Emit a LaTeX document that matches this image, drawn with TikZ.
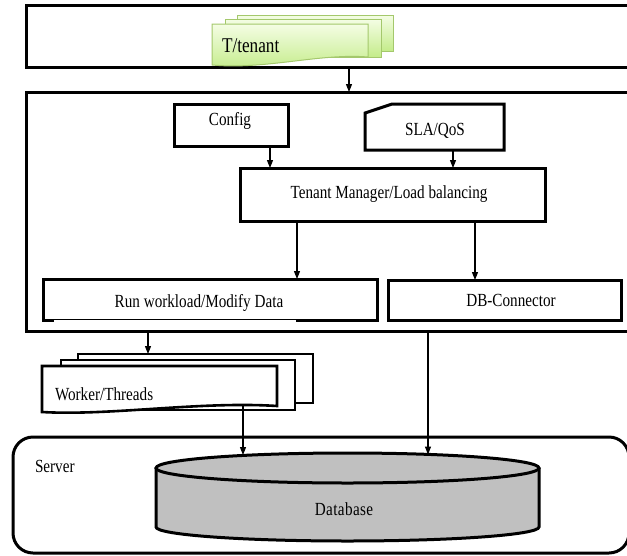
\documentclass[tikz,border=0pt]{standalone}
\usepackage{fontspec}
\setmainfont[FakeStretch=0.82]{Liberation Serif}
\usetikzlibrary{arrows.meta,shapes.geometric,calc}
\definecolor{gtop}{HTML}{F4FDE4}
\definecolor{gbot}{HTML}{C4EC8A}
\definecolor{gline}{HTML}{A4C86C}
\definecolor{dbgray}{HTML}{C0C0C0}
\begin{document}
\begin{tikzpicture}[x=1pt,y=-1pt,
  txt/.style={font=\fontsize{18.5}{21}\selectfont},
  outerbox/.style={draw,line width=3pt,rectangle,inner sep=0pt,outer sep=0pt},
  box/.style={draw,line width=3pt,rectangle,inner sep=0pt,outer sep=0pt},
  lbl/.style={inner sep=0pt,outer sep=0pt,txt},
  arr/.style={-{Triangle[length=8pt,width=6pt]},line width=1.1pt},
  gsheet/.style={draw=gline,line width=1pt,top color=gtop,bottom color=gbot},
  wsheet/.style={draw,line width=2.6pt,fill=white},
  sheetnode/.style={rectangle,inner sep=0pt,outer sep=0pt}
]
\useasboundingbox (0,0) rectangle (627,555);
\clip (0,0) rectangle (627,555);

% ---------- top box with tenant stack ----------
\node[outerbox,minimum width=634,minimum height=62,anchor=north west] (topbox) at (26,5) {};
\node[sheetnode,gsheet,minimum width=156,minimum height=36,anchor=north west] (tback) at (237,15) {};
\node[sheetnode,gsheet,minimum width=156,minimum height=38,anchor=north west] (tmid) at (225,19) {};
\draw[gsheet] (212,24) -- (368,24) -- (368,57) .. controls (320,53) and (265,70) .. (212,65) -- cycle;
\node[lbl,font=\fontsize{21}{24}\selectfont,anchor=west] (tenant) at (222,46) {T/tenant};

% ---------- middle box ----------
\node[outerbox,minimum width=634,minimum height=239,anchor=north west] (midbox) at (26,92) {};
\node[box,minimum width=114,minimum height=42,anchor=north west] (config) at (174,104) {};
\node[lbl] (configlbl) at (230,121) {Config};
\node[sheetnode,minimum width=139,minimum height=46,anchor=north west] (sla) at (365,104) {};
\draw[line width=3pt] (sla.south west) -- ([yshift=-9pt]sla.north west) -- ([xshift=27pt]sla.north west) -- (sla.north east) -- (sla.south east) -- cycle;
\node[lbl] (slalbl) at (435,131) {SLA/QoS};
\node[box,minimum width=305,minimum height=53,anchor=north west] (tm) at (240,168) {};
\node[lbl] (tmlbl) at (389,194) {Tenant Manager/Load balancing};
\node[box,minimum width=334,minimum height=41,anchor=north west] (run) at (43,279) {};
\draw[white,line width=3.4pt] ([xshift=11pt]run.south west) -- ([xshift=-81pt]run.south east);
\draw[line width=0.9pt] ([xshift=11pt,yshift=1pt]run.south west) -- ([xshift=-81pt,yshift=1pt]run.south east);
\node[lbl] (runlbl) at (199,303) {Run workload/Modify Data};
\node[box,minimum width=233,minimum height=40,anchor=north west] (dbc) at (388,280) {};
\node[lbl] (dbclbl) at (511,300) {DB-Connector};

% ---------- worker stack ----------
\node[sheetnode,wsheet,minimum width=235,minimum height=49,anchor=north west] (wback) at (78,354) {};
\node[sheetnode,wsheet,minimum width=234,minimum height=50,anchor=north west] (wmid) at (61,360) {};
\draw[wsheet] (42,366) -- (277,366) -- (277,406) .. controls (200,401) and (110,416) .. (42,412) -- cycle;
\node[lbl,anchor=west] (worker) at (55,394) {Worker/Threads};
\coordinate (wkbot) at (243,405);

% ---------- server and database ----------
\node[draw,line width=3pt,rectangle,rounded corners=20pt,inner sep=0pt,outer sep=0pt,minimum width=616,minimum height=116,anchor=north west] (server) at (13,437) {};
\node[lbl,anchor=west] (serverlbl) at (35,466) {Server};
\fill[dbgray] (156,468) -- (156,527) arc[start angle=180,end angle=360,x radius=191.5pt,y radius=14pt] -- (539,468) -- cycle;
\draw[line width=3pt] (156,468) -- (156,527) arc[start angle=180,end angle=360,x radius=191.5pt,y radius=14pt] -- (539,468);
\node[ellipse,draw,line width=3pt,fill=dbgray,inner sep=0pt,outer sep=0pt,minimum width=383,minimum height=30] (dbtop) at (347.5,468) {};
\node[lbl] (db) at (344,509) {D\kern0.4pt a\kern0.4pt t\kern0.4pt a\kern0.4pt b\kern0.4pt a\kern0.4pt s\kern0.4pt e};

% ---------- connectors ----------
\coordinate (tx) at (349,0);
\coordinate (cx) at (270,0);
\coordinate (sx) at (453,0);
\coordinate (rx) at (297,0);
\coordinate (dx) at (475,0);
\coordinate (wx) at (148,0);
\coordinate (lx) at (428,0);
\draw[arr] (tx |- topbox.south) -- (tx |- midbox.north);
\draw[arr] (cx |- config.south) -- (cx |- tm.north);
\draw[arr] (sx |- sla.south) -- (sx |- tm.north);
\draw[arr] (rx |- tm.south) -- (rx |- run.north);
\draw[arr] (dx |- tm.south) -- (dx |- dbc.north);
\draw[arr] (wx |- midbox.south) -- (wx |- wback.north);
\draw[arr] (wkbot) -- ($(wkbot |- dbtop.north)+(0,2)$);
\draw[arr] (lx |- midbox.south) -- ($(lx |- dbtop.north)+(0,1.5)$);
\end{tikzpicture}
\end{document}
